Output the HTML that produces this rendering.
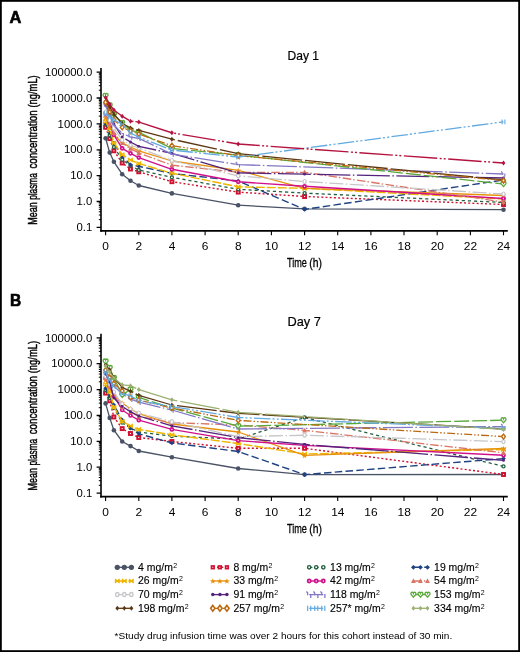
<!DOCTYPE html>
<html><head><meta charset="utf-8"><style>
html,body{margin:0;padding:0;background:#fff;}
body{width:520px;height:652px;overflow:hidden;}
svg{display:block;font-family:"Liberation Sans",sans-serif;will-change:transform;}
</style></head><body>
<svg width="520" height="652" viewBox="0 0 520 652">
<rect x="0" y="0" width="520" height="652" fill="#fff"/>
<rect x="0.9" y="0.9" width="518.2" height="650.2" fill="none" stroke="#000" stroke-width="1.8"/>
<text x="9.49" y="23.40" font-size="16.38" font-weight="bold" textLength="11.86" lengthAdjust="spacingAndGlyphs" fill="#000" stroke="#000" stroke-width="0.6">A</text>
<text x="10.09" y="305.60" font-size="16.09" font-weight="bold" textLength="11.25" lengthAdjust="spacingAndGlyphs" fill="#000" stroke="#000" stroke-width="0.6">B</text>
<path d="M101 68.0V231.7" stroke="#000" stroke-width="1.6" fill="none"/>
<path d="M100.2 230.9H507.8" stroke="#000" stroke-width="1.6" fill="none"/>
<text x="45.00" y="75.85" font-size="10.50" font-weight="normal" textLength="47.30" lengthAdjust="spacingAndGlyphs" fill="#000">100000.0</text>
<text x="51.31" y="101.72" font-size="10.50" font-weight="normal" textLength="40.99" lengthAdjust="spacingAndGlyphs" fill="#000">10000.0</text>
<text x="57.61" y="127.59" font-size="10.50" font-weight="normal" textLength="34.69" lengthAdjust="spacingAndGlyphs" fill="#000">1000.0</text>
<text x="63.92" y="153.46" font-size="10.50" font-weight="normal" textLength="28.38" lengthAdjust="spacingAndGlyphs" fill="#000">100.0</text>
<text x="70.23" y="179.33" font-size="10.50" font-weight="normal" textLength="22.07" lengthAdjust="spacingAndGlyphs" fill="#000">10.0</text>
<text x="76.54" y="205.20" font-size="10.50" font-weight="normal" textLength="15.76" lengthAdjust="spacingAndGlyphs" fill="#000">1.0</text>
<text x="76.54" y="231.07" font-size="10.50" font-weight="normal" textLength="15.76" lengthAdjust="spacingAndGlyphs" fill="#000">0.1</text>
<path d="M98.8 90.2H101 M98.8 85.7H101 M98.8 82.4H101 M98.8 79.9H101 M98.8 77.9H101 M98.8 76.2H101 M98.8 74.7H101 M98.8 73.3H101 M98.8 116.1H101 M98.8 111.5H101 M98.8 108.3H101 M98.8 105.8H101 M98.8 103.8H101 M98.8 102.0H101 M98.8 100.5H101 M98.8 99.2H101 M98.8 142.0H101 M98.8 137.4H101 M98.8 134.2H101 M98.8 131.7H101 M98.8 129.6H101 M98.8 127.9H101 M98.8 126.4H101 M98.8 125.1H101 M98.8 167.8H101 M98.8 163.3H101 M98.8 160.1H101 M98.8 157.5H101 M98.8 155.5H101 M98.8 153.8H101 M98.8 152.3H101 M98.8 150.9H101 M98.8 193.7H101 M98.8 189.2H101 M98.8 185.9H101 M98.8 183.4H101 M98.8 181.4H101 M98.8 179.6H101 M98.8 178.1H101 M98.8 176.8H101 M98.8 219.6H101 M98.8 215.0H101 M98.8 211.8H101 M98.8 209.3H101 M98.8 207.2H101 M98.8 205.5H101 M98.8 204.0H101 M98.8 202.7H101" stroke="#000" stroke-width="1" fill="none"/>
<path d="M96.6 72.2H101 M96.6 98.0H101 M96.6 123.9H101 M96.6 149.8H101 M96.6 175.6H101 M96.6 201.5H101 M96.6 227.4H101" stroke="#000" stroke-width="1.3" fill="none"/>
<text x="102.38" y="249.90" font-size="10.20" font-weight="normal" textLength="6.64" lengthAdjust="spacingAndGlyphs" fill="#000">0</text>
<text x="135.54" y="249.90" font-size="10.20" font-weight="normal" textLength="6.64" lengthAdjust="spacingAndGlyphs" fill="#000">2</text>
<text x="168.70" y="249.90" font-size="10.20" font-weight="normal" textLength="6.64" lengthAdjust="spacingAndGlyphs" fill="#000">4</text>
<text x="201.86" y="249.90" font-size="10.20" font-weight="normal" textLength="6.64" lengthAdjust="spacingAndGlyphs" fill="#000">6</text>
<text x="235.02" y="249.90" font-size="10.20" font-weight="normal" textLength="6.64" lengthAdjust="spacingAndGlyphs" fill="#000">8</text>
<text x="264.86" y="249.90" font-size="10.20" font-weight="normal" textLength="13.27" lengthAdjust="spacingAndGlyphs" fill="#000">10</text>
<text x="298.02" y="249.90" font-size="10.20" font-weight="normal" textLength="13.27" lengthAdjust="spacingAndGlyphs" fill="#000">12</text>
<text x="331.18" y="249.90" font-size="10.20" font-weight="normal" textLength="13.27" lengthAdjust="spacingAndGlyphs" fill="#000">14</text>
<text x="364.34" y="249.90" font-size="10.20" font-weight="normal" textLength="13.27" lengthAdjust="spacingAndGlyphs" fill="#000">16</text>
<text x="397.50" y="249.90" font-size="10.20" font-weight="normal" textLength="13.27" lengthAdjust="spacingAndGlyphs" fill="#000">18</text>
<text x="430.66" y="249.90" font-size="10.20" font-weight="normal" textLength="13.27" lengthAdjust="spacingAndGlyphs" fill="#000">20</text>
<text x="463.82" y="249.90" font-size="10.20" font-weight="normal" textLength="13.27" lengthAdjust="spacingAndGlyphs" fill="#000">22</text>
<text x="496.98" y="249.90" font-size="10.20" font-weight="normal" textLength="13.27" lengthAdjust="spacingAndGlyphs" fill="#000">24</text>
<path d="M105.6 230.9V235.3 M138.8 230.9V235.3 M171.9 230.9V235.3 M205.1 230.9V235.3 M238.2 230.9V235.3 M271.4 230.9V235.3 M304.6 230.9V235.3 M337.7 230.9V235.3 M370.9 230.9V235.3 M404.0 230.9V235.3 M437.2 230.9V235.3 M470.4 230.9V235.3 M503.5 230.9V235.3" stroke="#000" stroke-width="1.1" fill="none"/>
<text x="287.54" y="60.20" font-size="12.90" font-weight="normal" textLength="31.50" lengthAdjust="spacingAndGlyphs" fill="#000" stroke="#000" stroke-width="0.2">Day 1</text>
<text x="286.97" y="267.20" font-size="12.97" font-weight="normal" textLength="19.94" lengthAdjust="spacingAndGlyphs" fill="#000" stroke="#000" stroke-width="0.3">Time</text>
<text x="309.28" y="267.20" font-size="12.97" font-weight="normal" textLength="12.67" lengthAdjust="spacingAndGlyphs" fill="#000" stroke="#000" stroke-width="0.3">(h)</text>
<text transform="translate(37.1 224.72) rotate(-90)" x="0" y="0" font-size="13.00" textLength="22.52" lengthAdjust="spacingAndGlyphs" stroke="#000" stroke-width="0.45">Mean</text>
<text transform="translate(37.1 199.84) rotate(-90)" x="0" y="0" font-size="13.00" textLength="26.73" lengthAdjust="spacingAndGlyphs" stroke="#000" stroke-width="0.45">plasma</text>
<text transform="translate(37.1 168.54) rotate(-90)" x="0" y="0" font-size="13.00" textLength="58.16" lengthAdjust="spacingAndGlyphs" stroke="#000" stroke-width="0.45">concentration</text>
<text transform="translate(37.1 107.56) rotate(-90)" x="0" y="0" font-size="13.00" textLength="32.28" lengthAdjust="spacingAndGlyphs" stroke="#000" stroke-width="0.45">(ng/mL)</text>
<path d="M101 333.7V497.4" stroke="#000" stroke-width="1.6" fill="none"/>
<path d="M100.2 496.6H507.8" stroke="#000" stroke-width="1.6" fill="none"/>
<text x="45.00" y="341.55" font-size="10.50" font-weight="normal" textLength="47.30" lengthAdjust="spacingAndGlyphs" fill="#000">100000.0</text>
<text x="51.31" y="367.42" font-size="10.50" font-weight="normal" textLength="40.99" lengthAdjust="spacingAndGlyphs" fill="#000">10000.0</text>
<text x="57.61" y="393.29" font-size="10.50" font-weight="normal" textLength="34.69" lengthAdjust="spacingAndGlyphs" fill="#000">1000.0</text>
<text x="63.92" y="419.16" font-size="10.50" font-weight="normal" textLength="28.38" lengthAdjust="spacingAndGlyphs" fill="#000">100.0</text>
<text x="70.23" y="445.03" font-size="10.50" font-weight="normal" textLength="22.07" lengthAdjust="spacingAndGlyphs" fill="#000">10.0</text>
<text x="76.54" y="470.90" font-size="10.50" font-weight="normal" textLength="15.76" lengthAdjust="spacingAndGlyphs" fill="#000">1.0</text>
<text x="76.54" y="496.77" font-size="10.50" font-weight="normal" textLength="15.76" lengthAdjust="spacingAndGlyphs" fill="#000">0.1</text>
<path d="M98.8 355.9H101 M98.8 351.4H101 M98.8 348.1H101 M98.8 345.6H101 M98.8 343.6H101 M98.8 341.9H101 M98.8 340.4H101 M98.8 339.0H101 M98.8 381.8H101 M98.8 377.2H101 M98.8 374.0H101 M98.8 371.5H101 M98.8 369.5H101 M98.8 367.7H101 M98.8 366.2H101 M98.8 364.9H101 M98.8 407.7H101 M98.8 403.1H101 M98.8 399.9H101 M98.8 397.4H101 M98.8 395.3H101 M98.8 393.6H101 M98.8 392.1H101 M98.8 390.8H101 M98.8 433.5H101 M98.8 429.0H101 M98.8 425.8H101 M98.8 423.2H101 M98.8 421.2H101 M98.8 419.5H101 M98.8 418.0H101 M98.8 416.6H101 M98.8 459.4H101 M98.8 454.9H101 M98.8 451.6H101 M98.8 449.1H101 M98.8 447.1H101 M98.8 445.3H101 M98.8 443.8H101 M98.8 442.5H101 M98.8 485.3H101 M98.8 480.7H101 M98.8 477.5H101 M98.8 475.0H101 M98.8 472.9H101 M98.8 471.2H101 M98.8 469.7H101 M98.8 468.4H101" stroke="#000" stroke-width="1" fill="none"/>
<path d="M96.6 337.9H101 M96.6 363.7H101 M96.6 389.6H101 M96.6 415.5H101 M96.6 441.3H101 M96.6 467.2H101 M96.6 493.1H101" stroke="#000" stroke-width="1.3" fill="none"/>
<text x="102.38" y="515.60" font-size="10.20" font-weight="normal" textLength="6.64" lengthAdjust="spacingAndGlyphs" fill="#000">0</text>
<text x="135.54" y="515.60" font-size="10.20" font-weight="normal" textLength="6.64" lengthAdjust="spacingAndGlyphs" fill="#000">2</text>
<text x="168.70" y="515.60" font-size="10.20" font-weight="normal" textLength="6.64" lengthAdjust="spacingAndGlyphs" fill="#000">4</text>
<text x="201.86" y="515.60" font-size="10.20" font-weight="normal" textLength="6.64" lengthAdjust="spacingAndGlyphs" fill="#000">6</text>
<text x="235.02" y="515.60" font-size="10.20" font-weight="normal" textLength="6.64" lengthAdjust="spacingAndGlyphs" fill="#000">8</text>
<text x="264.86" y="515.60" font-size="10.20" font-weight="normal" textLength="13.27" lengthAdjust="spacingAndGlyphs" fill="#000">10</text>
<text x="298.02" y="515.60" font-size="10.20" font-weight="normal" textLength="13.27" lengthAdjust="spacingAndGlyphs" fill="#000">12</text>
<text x="331.18" y="515.60" font-size="10.20" font-weight="normal" textLength="13.27" lengthAdjust="spacingAndGlyphs" fill="#000">14</text>
<text x="364.34" y="515.60" font-size="10.20" font-weight="normal" textLength="13.27" lengthAdjust="spacingAndGlyphs" fill="#000">16</text>
<text x="397.50" y="515.60" font-size="10.20" font-weight="normal" textLength="13.27" lengthAdjust="spacingAndGlyphs" fill="#000">18</text>
<text x="430.66" y="515.60" font-size="10.20" font-weight="normal" textLength="13.27" lengthAdjust="spacingAndGlyphs" fill="#000">20</text>
<text x="463.82" y="515.60" font-size="10.20" font-weight="normal" textLength="13.27" lengthAdjust="spacingAndGlyphs" fill="#000">22</text>
<text x="496.98" y="515.60" font-size="10.20" font-weight="normal" textLength="13.27" lengthAdjust="spacingAndGlyphs" fill="#000">24</text>
<path d="M105.6 496.6V501.0 M138.8 496.6V501.0 M171.9 496.6V501.0 M205.1 496.6V501.0 M238.2 496.6V501.0 M271.4 496.6V501.0 M304.6 496.6V501.0 M337.7 496.6V501.0 M370.9 496.6V501.0 M404.0 496.6V501.0 M437.2 496.6V501.0 M470.4 496.6V501.0 M503.5 496.6V501.0" stroke="#000" stroke-width="1.1" fill="none"/>
<text x="287.48" y="325.90" font-size="12.90" font-weight="normal" textLength="33.39" lengthAdjust="spacingAndGlyphs" fill="#000" stroke="#000" stroke-width="0.2">Day 7</text>
<text x="286.97" y="532.90" font-size="12.97" font-weight="normal" textLength="19.94" lengthAdjust="spacingAndGlyphs" fill="#000" stroke="#000" stroke-width="0.3">Time</text>
<text x="309.28" y="532.90" font-size="12.97" font-weight="normal" textLength="12.67" lengthAdjust="spacingAndGlyphs" fill="#000" stroke="#000" stroke-width="0.3">(h)</text>
<text transform="translate(37.1 490.42) rotate(-90)" x="0" y="0" font-size="13.00" textLength="22.52" lengthAdjust="spacingAndGlyphs" stroke="#000" stroke-width="0.45">Mean</text>
<text transform="translate(37.1 465.54) rotate(-90)" x="0" y="0" font-size="13.00" textLength="26.73" lengthAdjust="spacingAndGlyphs" stroke="#000" stroke-width="0.45">plasma</text>
<text transform="translate(37.1 434.24) rotate(-90)" x="0" y="0" font-size="13.00" textLength="58.16" lengthAdjust="spacingAndGlyphs" stroke="#000" stroke-width="0.45">concentration</text>
<text transform="translate(37.1 373.26) rotate(-90)" x="0" y="0" font-size="13.00" textLength="32.28" lengthAdjust="spacingAndGlyphs" stroke="#000" stroke-width="0.45">(ng/mL)</text>
<polyline points="105.6,138.3 109.7,152.6 113.9,161.8 122.2,174.2 130.5,180.8 138.8,185.5 171.9,193.4 238.2,205.2 304.6,208.8 503.5,209.7" fill="none" stroke="#4a5266" stroke-width="1.3" stroke-linejoin="round"/>
<circle cx="105.6" cy="138.3" r="2.3" fill="#4a5266"/>
<circle cx="109.7" cy="152.6" r="2.3" fill="#4a5266"/>
<circle cx="113.9" cy="161.8" r="2.3" fill="#4a5266"/>
<circle cx="122.2" cy="174.2" r="2.3" fill="#4a5266"/>
<circle cx="130.5" cy="180.8" r="2.3" fill="#4a5266"/>
<circle cx="138.8" cy="185.5" r="2.3" fill="#4a5266"/>
<circle cx="171.9" cy="193.4" r="2.3" fill="#4a5266"/>
<circle cx="238.2" cy="205.2" r="2.3" fill="#4a5266"/>
<circle cx="304.6" cy="208.8" r="2.3" fill="#4a5266"/>
<circle cx="503.5" cy="209.7" r="2.3" fill="#4a5266"/>
<polyline points="105.6,127.3 109.7,138.6 113.9,150.8 122.2,163.0 130.5,169.0 138.8,171.8 171.9,181.7 238.2,192.1 304.6,196.5 503.5,204.5" fill="none" stroke="#cf1130" stroke-width="1.4" stroke-dasharray="2,2.2" stroke-linejoin="round"/>
<rect x="104.10" y="125.80" width="3.0" height="3.0" fill="#fff" stroke="#cf1130" stroke-width="1.9"/>
<rect x="108.24" y="137.10" width="3.0" height="3.0" fill="#fff" stroke="#cf1130" stroke-width="1.9"/>
<rect x="112.39" y="149.30" width="3.0" height="3.0" fill="#fff" stroke="#cf1130" stroke-width="1.9"/>
<rect x="120.68" y="161.50" width="3.0" height="3.0" fill="#fff" stroke="#cf1130" stroke-width="1.9"/>
<rect x="128.97" y="167.50" width="3.0" height="3.0" fill="#fff" stroke="#cf1130" stroke-width="1.9"/>
<rect x="137.26" y="170.30" width="3.0" height="3.0" fill="#fff" stroke="#cf1130" stroke-width="1.9"/>
<rect x="170.42" y="180.20" width="3.0" height="3.0" fill="#fff" stroke="#cf1130" stroke-width="1.9"/>
<rect x="236.74" y="190.60" width="3.0" height="3.0" fill="#fff" stroke="#cf1130" stroke-width="1.9"/>
<rect x="303.06" y="195.00" width="3.0" height="3.0" fill="#fff" stroke="#cf1130" stroke-width="1.9"/>
<rect x="502.02" y="203.00" width="3.0" height="3.0" fill="#fff" stroke="#cf1130" stroke-width="1.9"/>
<polyline points="105.6,124.0 109.7,135.0 113.9,147.0 122.2,159.7 130.5,165.6 138.8,170.0 171.9,177.3 238.2,189.3 304.6,193.1 503.5,202.5" fill="none" stroke="#22603f" stroke-width="1.3" stroke-dasharray="3.2,2.9" stroke-linejoin="round"/>
<circle cx="105.6" cy="124.0" r="1.5" fill="#fff" stroke="#22603f" stroke-width="1.3"/>
<circle cx="109.7" cy="135.0" r="1.5" fill="#fff" stroke="#22603f" stroke-width="1.3"/>
<circle cx="113.9" cy="147.0" r="1.5" fill="#fff" stroke="#22603f" stroke-width="1.3"/>
<circle cx="122.2" cy="159.7" r="1.5" fill="#fff" stroke="#22603f" stroke-width="1.3"/>
<circle cx="130.5" cy="165.6" r="1.5" fill="#fff" stroke="#22603f" stroke-width="1.3"/>
<circle cx="138.8" cy="170.0" r="1.5" fill="#fff" stroke="#22603f" stroke-width="1.3"/>
<circle cx="171.9" cy="177.3" r="1.5" fill="#fff" stroke="#22603f" stroke-width="1.3"/>
<circle cx="238.2" cy="189.3" r="1.5" fill="#fff" stroke="#22603f" stroke-width="1.3"/>
<circle cx="304.6" cy="193.1" r="1.5" fill="#fff" stroke="#22603f" stroke-width="1.3"/>
<circle cx="503.5" cy="202.5" r="1.5" fill="#fff" stroke="#22603f" stroke-width="1.3"/>
<polyline points="105.6,123.4 109.7,132.7 113.9,143.0 122.2,156.3 130.5,164.7 138.8,166.3 171.9,173.4 238.2,181.0 304.6,209.4 503.5,180.0" fill="none" stroke="#1f4282" stroke-width="1.4" stroke-dasharray="7.5,3.3" stroke-linejoin="round"/>
<path d="M105.6 121.1L107.9 123.4L105.6 125.7L103.3 123.4Z" fill="#1f4282"/>
<path d="M109.7 130.4L112.0 132.7L109.7 135.0L107.4 132.7Z" fill="#1f4282"/>
<path d="M113.9 140.7L116.2 143.0L113.9 145.3L111.6 143.0Z" fill="#1f4282"/>
<path d="M122.2 154.0L124.5 156.3L122.2 158.6L119.9 156.3Z" fill="#1f4282"/>
<path d="M130.5 162.4L132.8 164.7L130.5 167.0L128.2 164.7Z" fill="#1f4282"/>
<path d="M138.8 164.0L141.1 166.3L138.8 168.6L136.5 166.3Z" fill="#1f4282"/>
<path d="M171.9 171.1L174.2 173.4L171.9 175.7L169.6 173.4Z" fill="#1f4282"/>
<path d="M238.2 178.7L240.5 181.0L238.2 183.3L235.9 181.0Z" fill="#1f4282"/>
<path d="M304.6 207.1L306.9 209.4L304.6 211.7L302.3 209.4Z" fill="#1f4282"/>
<path d="M503.5 177.7L505.8 180.0L503.5 182.3L501.2 180.0Z" fill="#1f4282"/>
<polyline points="105.6,121.5 109.7,130.1 113.9,142.8 122.2,154.6 130.5,160.0 138.8,163.5 171.9,173.2 238.2,186.8 304.6,188.3 503.5,199.0" fill="none" stroke="#efb600" stroke-width="1.4" stroke-dasharray="9,2" stroke-linejoin="round"/>
<path d="M103.7 119.6L107.5 123.4M107.5 119.6L103.7 123.4M103.7 119.3V123.7M107.5 119.3V123.7" stroke="#efb600" stroke-width="1.1" fill="none"/>
<path d="M107.8 128.2L111.6 132.0M111.6 128.2L107.8 132.0M107.8 127.9V132.3M111.6 127.9V132.3" stroke="#efb600" stroke-width="1.1" fill="none"/>
<path d="M112.0 140.9L115.8 144.7M115.8 140.9L112.0 144.7M112.0 140.6V145.0M115.8 140.6V145.0" stroke="#efb600" stroke-width="1.1" fill="none"/>
<path d="M120.3 152.7L124.1 156.5M124.1 152.7L120.3 156.5M120.3 152.4V156.8M124.1 152.4V156.8" stroke="#efb600" stroke-width="1.1" fill="none"/>
<path d="M128.6 158.1L132.4 161.9M132.4 158.1L128.6 161.9M128.6 157.8V162.2M132.4 157.8V162.2" stroke="#efb600" stroke-width="1.1" fill="none"/>
<path d="M136.9 161.6L140.7 165.4M140.7 161.6L136.9 165.4M136.9 161.3V165.7M140.7 161.3V165.7" stroke="#efb600" stroke-width="1.1" fill="none"/>
<path d="M170.0 171.3L173.8 175.1M173.8 171.3L170.0 175.1M170.0 171.0V175.4M173.8 171.0V175.4" stroke="#efb600" stroke-width="1.1" fill="none"/>
<path d="M236.3 184.9L240.1 188.7M240.1 184.9L236.3 188.7M236.3 184.6V189.0M240.1 184.6V189.0" stroke="#efb600" stroke-width="1.1" fill="none"/>
<path d="M302.7 186.4L306.5 190.2M306.5 186.4L302.7 190.2M302.7 186.1V190.5M306.5 186.1V190.5" stroke="#efb600" stroke-width="1.1" fill="none"/>
<path d="M501.6 197.1L505.4 200.9M505.4 197.1L501.6 200.9M501.6 196.8V201.2M505.4 196.8V201.2" stroke="#efb600" stroke-width="1.1" fill="none"/>
<polyline points="105.6,118.0 109.7,127.0 113.9,135.0 122.2,142.8 130.5,147.0 138.8,150.8 171.9,161.0 238.2,170.4 304.6,188.3 503.5,195.5" fill="none" stroke="#e6920c" stroke-width="1.3" stroke-linejoin="round"/>
<polygon points="105.60,115.30 106.33,117.29 108.45,117.37 106.79,118.69 107.36,120.73 105.60,119.55 103.84,120.73 104.41,118.69 102.75,117.37 104.87,117.29" fill="#e6920c"/>
<polygon points="109.74,124.30 110.48,126.29 112.60,126.37 110.93,127.69 111.51,129.73 109.74,128.55 107.98,129.73 108.56,127.69 106.89,126.37 109.01,126.29" fill="#e6920c"/>
<polygon points="113.89,132.30 114.62,134.29 116.74,134.37 115.08,135.69 115.65,137.73 113.89,136.55 112.13,137.73 112.70,135.69 111.04,134.37 113.16,134.29" fill="#e6920c"/>
<polygon points="122.18,140.10 122.91,142.09 125.03,142.17 123.37,143.49 123.94,145.53 122.18,144.35 120.42,145.53 120.99,143.49 119.33,142.17 121.45,142.09" fill="#e6920c"/>
<polygon points="130.47,144.30 131.20,146.29 133.32,146.37 131.66,147.69 132.23,149.73 130.47,148.55 128.71,149.73 129.28,147.69 127.62,146.37 129.74,146.29" fill="#e6920c"/>
<polygon points="138.76,148.10 139.49,150.09 141.61,150.17 139.95,151.49 140.52,153.53 138.76,152.35 137.00,153.53 137.57,151.49 135.91,150.17 138.03,150.09" fill="#e6920c"/>
<polygon points="171.92,158.30 172.65,160.29 174.77,160.37 173.11,161.69 173.68,163.73 171.92,162.55 170.16,163.73 170.73,161.69 169.07,160.37 171.19,160.29" fill="#e6920c"/>
<polygon points="238.24,167.70 238.97,169.69 241.09,169.77 239.43,171.09 240.00,173.13 238.24,171.95 236.48,173.13 237.05,171.09 235.39,169.77 237.51,169.69" fill="#e6920c"/>
<polygon points="304.56,185.60 305.29,187.59 307.41,187.67 305.75,188.99 306.32,191.03 304.56,189.85 302.80,191.03 303.37,188.99 301.71,187.67 303.83,187.59" fill="#e6920c"/>
<polygon points="503.52,192.80 504.25,194.79 506.37,194.87 504.71,196.19 505.28,198.23 503.52,197.05 501.76,198.23 502.33,196.19 500.67,194.87 502.79,194.79" fill="#e6920c"/>
<polyline points="105.6,113.3 109.7,122.0 113.9,134.8 122.2,148.3 130.5,153.3 138.8,157.6 171.9,169.3 238.2,181.8 304.6,186.3 503.5,198.5" fill="none" stroke="#d0108a" stroke-width="1.4" stroke-linejoin="round"/>
<circle cx="105.6" cy="113.3" r="1.5" fill="#fff" stroke="#d0108a" stroke-width="1.7"/>
<circle cx="109.7" cy="122.0" r="1.5" fill="#fff" stroke="#d0108a" stroke-width="1.7"/>
<circle cx="113.9" cy="134.8" r="1.5" fill="#fff" stroke="#d0108a" stroke-width="1.7"/>
<circle cx="122.2" cy="148.3" r="1.5" fill="#fff" stroke="#d0108a" stroke-width="1.7"/>
<circle cx="130.5" cy="153.3" r="1.5" fill="#fff" stroke="#d0108a" stroke-width="1.7"/>
<circle cx="138.8" cy="157.6" r="1.5" fill="#fff" stroke="#d0108a" stroke-width="1.7"/>
<circle cx="171.9" cy="169.3" r="1.5" fill="#fff" stroke="#d0108a" stroke-width="1.7"/>
<circle cx="238.2" cy="181.8" r="1.5" fill="#fff" stroke="#d0108a" stroke-width="1.7"/>
<circle cx="304.6" cy="186.3" r="1.5" fill="#fff" stroke="#d0108a" stroke-width="1.7"/>
<circle cx="503.5" cy="198.5" r="1.5" fill="#fff" stroke="#d0108a" stroke-width="1.7"/>
<polyline points="105.6,115.0 109.7,124.0 113.9,133.0 122.2,143.0 130.5,148.7 138.8,152.9 171.9,165.2 238.2,172.3 304.6,172.3 503.5,202.0" fill="none" stroke="#da7565" stroke-width="1.3" stroke-dasharray="8.5,2,1.5,2.4" stroke-linejoin="round"/>
<path d="M105.6 112.3L108.0 117.0L103.2 117.0Z" fill="#da7565"/>
<path d="M109.7 121.3L112.1 126.0L107.3 126.0Z" fill="#da7565"/>
<path d="M113.9 130.3L116.3 135.0L111.5 135.0Z" fill="#da7565"/>
<path d="M122.2 140.3L124.6 145.0L119.8 145.0Z" fill="#da7565"/>
<path d="M130.5 146.0L132.9 150.7L128.1 150.7Z" fill="#da7565"/>
<path d="M138.8 150.2L141.2 154.9L136.4 154.9Z" fill="#da7565"/>
<path d="M171.9 162.5L174.3 167.2L169.5 167.2Z" fill="#da7565"/>
<path d="M238.2 169.6L240.6 174.3L235.8 174.3Z" fill="#da7565"/>
<path d="M304.6 169.6L307.0 174.3L302.2 174.3Z" fill="#da7565"/>
<path d="M503.5 199.3L505.9 204.0L501.1 204.0Z" fill="#da7565"/>
<polyline points="105.6,112.0 109.7,120.0 113.9,128.0 122.2,140.0 130.5,145.0 138.8,148.0 171.9,160.5 238.2,175.8 304.6,181.5 503.5,194.0" fill="none" stroke="#c6c6ca" stroke-width="1.3" stroke-dasharray="14,2.5,1.5,2.5" stroke-linejoin="round"/>
<ellipse cx="105.6" cy="112.0" rx="1.6" ry="2.0" fill="#fff" stroke="#c6c6ca" stroke-width="1.2"/>
<ellipse cx="109.7" cy="120.0" rx="1.6" ry="2.0" fill="#fff" stroke="#c6c6ca" stroke-width="1.2"/>
<ellipse cx="113.9" cy="128.0" rx="1.6" ry="2.0" fill="#fff" stroke="#c6c6ca" stroke-width="1.2"/>
<ellipse cx="122.2" cy="140.0" rx="1.6" ry="2.0" fill="#fff" stroke="#c6c6ca" stroke-width="1.2"/>
<ellipse cx="130.5" cy="145.0" rx="1.6" ry="2.0" fill="#fff" stroke="#c6c6ca" stroke-width="1.2"/>
<ellipse cx="138.8" cy="148.0" rx="1.6" ry="2.0" fill="#fff" stroke="#c6c6ca" stroke-width="1.2"/>
<ellipse cx="171.9" cy="160.5" rx="1.6" ry="2.0" fill="#fff" stroke="#c6c6ca" stroke-width="1.2"/>
<ellipse cx="238.2" cy="175.8" rx="1.6" ry="2.0" fill="#fff" stroke="#c6c6ca" stroke-width="1.2"/>
<ellipse cx="304.6" cy="181.5" rx="1.6" ry="2.0" fill="#fff" stroke="#c6c6ca" stroke-width="1.2"/>
<ellipse cx="503.5" cy="194.0" rx="1.6" ry="2.0" fill="#fff" stroke="#c6c6ca" stroke-width="1.2"/>
<polyline points="105.6,105.4 109.7,113.0 113.9,124.0 122.2,136.9 130.5,142.0 138.8,146.3 171.9,153.4 238.2,172.9 304.6,174.2 503.5,178.0" fill="none" stroke="#52227c" stroke-width="1.3" stroke-dasharray="33,2.5,1.5,2.5" stroke-linejoin="round"/>
<circle cx="105.6" cy="105.4" r="1.4" fill="#52227c"/>
<circle cx="109.7" cy="113.0" r="1.4" fill="#52227c"/>
<circle cx="113.9" cy="124.0" r="1.4" fill="#52227c"/>
<circle cx="122.2" cy="136.9" r="1.4" fill="#52227c"/>
<circle cx="130.5" cy="142.0" r="1.4" fill="#52227c"/>
<circle cx="138.8" cy="146.3" r="1.4" fill="#52227c"/>
<circle cx="171.9" cy="153.4" r="1.4" fill="#52227c"/>
<circle cx="238.2" cy="172.9" r="1.4" fill="#52227c"/>
<circle cx="304.6" cy="174.2" r="1.4" fill="#52227c"/>
<circle cx="503.5" cy="178.0" r="1.4" fill="#52227c"/>
<polyline points="105.6,106.0 109.7,115.0 113.9,125.0 122.2,133.5 130.5,137.0 138.8,138.3 171.9,154.1 238.2,164.6 503.5,174.0" fill="none" stroke="#8378c6" stroke-width="1.3" stroke-dasharray="30,2.5,1.5,2.5" stroke-linejoin="round"/>
<path d="M103.2 103.4L104.3 104.5V106.6M106.9 105.4V108.8" stroke="#8378c6" stroke-width="1.1" fill="none"/>
<path d="M107.3 112.4L108.4 113.5V115.6M111.0 114.4V117.8" stroke="#8378c6" stroke-width="1.1" fill="none"/>
<path d="M111.5 122.4L112.6 123.5V125.6M115.2 124.4V127.8" stroke="#8378c6" stroke-width="1.1" fill="none"/>
<path d="M119.8 130.9L120.9 132.0V134.1M123.5 132.9V136.3" stroke="#8378c6" stroke-width="1.1" fill="none"/>
<path d="M128.1 134.4L129.2 135.5V137.6M131.8 136.4V139.8" stroke="#8378c6" stroke-width="1.1" fill="none"/>
<path d="M136.4 135.7L137.5 136.8V138.9M140.1 137.7V141.1" stroke="#8378c6" stroke-width="1.1" fill="none"/>
<path d="M169.5 151.5L170.6 152.6V154.7M173.2 153.5V156.9" stroke="#8378c6" stroke-width="1.1" fill="none"/>
<path d="M235.8 162.0L236.9 163.1V165.2M239.5 164.0V167.4" stroke="#8378c6" stroke-width="1.1" fill="none"/>
<path d="M501.1 171.4L502.2 172.5V174.6M504.8 173.4V176.8" stroke="#8378c6" stroke-width="1.1" fill="none"/>
<polyline points="105.6,95.8 109.7,105.4 113.9,114.6 122.2,123.0 130.5,130.3 138.8,132.3 171.9,148.5 238.2,155.2 503.5,184.0" fill="none" stroke="#58a83a" stroke-width="1.3" stroke-dasharray="15,3" stroke-linejoin="round"/>
<path d="M105.6 98.4L103.2 95.6Q102.9 93.3 104.6 93.3Q105.3 93.4 105.6 94.4Q105.9 93.4 106.6 93.3Q108.3 93.3 108.0 95.6Z" fill="#fff" stroke="#58a83a" stroke-width="1.3"/>
<path d="M109.7 108.0L107.3 105.2Q107.0 102.9 108.7 102.9Q109.4 103.0 109.7 104.0Q110.0 103.0 110.7 102.9Q112.4 102.9 112.1 105.2Z" fill="#fff" stroke="#58a83a" stroke-width="1.3"/>
<path d="M113.9 117.2L111.5 114.4Q111.2 112.1 112.9 112.1Q113.6 112.2 113.9 113.2Q114.2 112.2 114.9 112.1Q116.6 112.1 116.3 114.4Z" fill="#fff" stroke="#58a83a" stroke-width="1.3"/>
<path d="M122.2 125.6L119.8 122.8Q119.5 120.5 121.2 120.5Q121.9 120.6 122.2 121.6Q122.5 120.6 123.2 120.5Q124.9 120.5 124.6 122.8Z" fill="#fff" stroke="#58a83a" stroke-width="1.3"/>
<path d="M130.5 132.9L128.1 130.1Q127.8 127.8 129.5 127.8Q130.2 127.9 130.5 128.9Q130.8 127.9 131.5 127.8Q133.2 127.8 132.9 130.1Z" fill="#fff" stroke="#58a83a" stroke-width="1.3"/>
<path d="M138.8 134.9L136.4 132.1Q136.1 129.8 137.8 129.8Q138.5 129.9 138.8 130.9Q139.1 129.9 139.8 129.8Q141.5 129.8 141.2 132.1Z" fill="#fff" stroke="#58a83a" stroke-width="1.3"/>
<path d="M171.9 151.1L169.5 148.3Q169.2 146.0 170.9 146.0Q171.6 146.1 171.9 147.1Q172.2 146.1 172.9 146.0Q174.6 146.0 174.3 148.3Z" fill="#fff" stroke="#58a83a" stroke-width="1.3"/>
<path d="M238.2 157.8L235.8 155.0Q235.5 152.7 237.2 152.7Q237.9 152.8 238.2 153.8Q238.5 152.8 239.2 152.7Q240.9 152.7 240.6 155.0Z" fill="#fff" stroke="#58a83a" stroke-width="1.3"/>
<path d="M503.5 186.6L501.1 183.8Q500.8 181.5 502.5 181.5Q503.2 181.6 503.5 182.6Q503.8 181.6 504.5 181.5Q506.2 181.5 505.9 183.8Z" fill="#fff" stroke="#58a83a" stroke-width="1.3"/>
<polyline points="105.6,101.5 109.7,107.5 113.9,114.2 122.2,123.5 130.5,127.9 138.8,130.4 171.9,139.2 238.2,153.7 503.5,180.0" fill="none" stroke="#5c3712" stroke-width="1.3" stroke-dasharray="40,3" stroke-linejoin="round"/>
<path d="M103.7 101.5L105.6 99.0L107.5 101.5L105.6 104.0Z" fill="#5c3712"/>
<path d="M107.8 107.5L109.7 105.0L111.6 107.5L109.7 110.0Z" fill="#5c3712"/>
<path d="M112.0 114.2L113.9 111.7L115.8 114.2L113.9 116.7Z" fill="#5c3712"/>
<path d="M120.3 123.5L122.2 121.0L124.1 123.5L122.2 126.0Z" fill="#5c3712"/>
<path d="M128.6 127.9L130.5 125.4L132.4 127.9L130.5 130.4Z" fill="#5c3712"/>
<path d="M136.9 130.4L138.8 127.9L140.7 130.4L138.8 132.9Z" fill="#5c3712"/>
<path d="M170.0 139.2L171.9 136.7L173.8 139.2L171.9 141.7Z" fill="#5c3712"/>
<path d="M236.3 153.7L238.2 151.2L240.1 153.7L238.2 156.2Z" fill="#5c3712"/>
<path d="M501.6 180.0L503.5 177.5L505.4 180.0L503.5 182.5Z" fill="#5c3712"/>
<polyline points="105.6,102.3 109.7,112.0 113.9,119.6 122.2,127.3 130.5,131.0 138.8,134.0 171.9,145.7 238.2,155.6 503.5,180.5" fill="none" stroke="#bc6a12" stroke-width="1.3" stroke-dasharray="8,2,1.5,2,1.5,2" stroke-linejoin="round"/>
<path d="M105.6 99.8L107.5 102.3L105.6 104.8L103.7 102.3Z" fill="#fff" stroke="#bc6a12" stroke-width="1.4"/>
<path d="M109.7 109.5L111.6 112.0L109.7 114.5L107.8 112.0Z" fill="#fff" stroke="#bc6a12" stroke-width="1.4"/>
<path d="M113.9 117.1L115.8 119.6L113.9 122.1L112.0 119.6Z" fill="#fff" stroke="#bc6a12" stroke-width="1.4"/>
<path d="M122.2 124.8L124.1 127.3L122.2 129.8L120.3 127.3Z" fill="#fff" stroke="#bc6a12" stroke-width="1.4"/>
<path d="M130.5 128.5L132.4 131.0L130.5 133.5L128.6 131.0Z" fill="#fff" stroke="#bc6a12" stroke-width="1.4"/>
<path d="M138.8 131.5L140.7 134.0L138.8 136.5L136.9 134.0Z" fill="#fff" stroke="#bc6a12" stroke-width="1.4"/>
<path d="M171.9 143.2L173.8 145.7L171.9 148.2L170.0 145.7Z" fill="#fff" stroke="#bc6a12" stroke-width="1.4"/>
<path d="M238.2 153.1L240.1 155.6L238.2 158.1L236.3 155.6Z" fill="#fff" stroke="#bc6a12" stroke-width="1.4"/>
<path d="M503.5 178.0L505.4 180.5L503.5 183.0L501.6 180.5Z" fill="#fff" stroke="#bc6a12" stroke-width="1.4"/>
<polyline points="105.6,113.5 109.7,117.0 113.9,120.0 122.2,124.0 130.5,133.0 138.8,137.2 171.9,150.0 238.2,157.1 503.5,121.8" fill="none" stroke="#62aae2" stroke-width="1.3" stroke-dasharray="16.5,2,2,2.3,2,2.3" stroke-linejoin="round"/>
<path d="M104.2 111.1V115.9M107.0 111.1V115.9" stroke="#62aae2" stroke-width="1.1" fill="none"/>
<path d="M108.3 114.6V119.4M111.1 114.6V119.4" stroke="#62aae2" stroke-width="1.1" fill="none"/>
<path d="M112.5 117.6V122.4M115.3 117.6V122.4" stroke="#62aae2" stroke-width="1.1" fill="none"/>
<path d="M120.8 121.6V126.4M123.6 121.6V126.4" stroke="#62aae2" stroke-width="1.1" fill="none"/>
<path d="M129.1 130.6V135.4M131.9 130.6V135.4" stroke="#62aae2" stroke-width="1.1" fill="none"/>
<path d="M137.4 134.8V139.6M140.2 134.8V139.6" stroke="#62aae2" stroke-width="1.1" fill="none"/>
<path d="M170.5 147.6V152.4M173.3 147.6V152.4" stroke="#62aae2" stroke-width="1.1" fill="none"/>
<path d="M236.8 154.7V159.5M239.6 154.7V159.5" stroke="#62aae2" stroke-width="1.1" fill="none"/>
<path d="M502.1 119.4V124.2M504.9 119.4V124.2" stroke="#62aae2" stroke-width="1.1" fill="none"/>
<polyline points="105.6,97.5 109.7,104.3 113.9,110.0 122.2,116.2 130.5,121.2 138.8,122.0 171.9,132.8 238.2,144.0 503.5,163.0" fill="none" stroke="#b5133f" stroke-width="1.4" stroke-dasharray="33.5,2.5,2,2,2,2.5" stroke-linejoin="round"/>
<path d="M103.7 97.5L105.6 95.0L107.5 97.5L105.6 100.0Z" fill="#b5133f"/>
<path d="M107.8 104.3L109.7 101.8L111.6 104.3L109.7 106.8Z" fill="#b5133f"/>
<path d="M112.0 110.0L113.9 107.5L115.8 110.0L113.9 112.5Z" fill="#b5133f"/>
<path d="M120.3 116.2L122.2 113.7L124.1 116.2L122.2 118.7Z" fill="#b5133f"/>
<path d="M128.6 121.2L130.5 118.7L132.4 121.2L130.5 123.7Z" fill="#b5133f"/>
<path d="M136.9 122.0L138.8 119.5L140.7 122.0L138.8 124.5Z" fill="#b5133f"/>
<path d="M170.0 132.8L171.9 130.3L173.8 132.8L171.9 135.3Z" fill="#b5133f"/>
<path d="M236.3 144.0L238.2 141.5L240.1 144.0L238.2 146.5Z" fill="#b5133f"/>
<path d="M501.6 163.0L503.5 160.5L505.4 163.0L503.5 165.5Z" fill="#b5133f"/>
<polyline points="105.6,403.4 109.7,417.9 113.9,430.2 122.2,441.5 130.5,446.1 138.8,451.0 171.9,457.2 238.2,468.5 304.6,474.6 503.5,474.5" fill="none" stroke="#4a5266" stroke-width="1.3" stroke-linejoin="round"/>
<circle cx="105.6" cy="403.4" r="2.3" fill="#4a5266"/>
<circle cx="109.7" cy="417.9" r="2.3" fill="#4a5266"/>
<circle cx="113.9" cy="430.2" r="2.3" fill="#4a5266"/>
<circle cx="122.2" cy="441.5" r="2.3" fill="#4a5266"/>
<circle cx="130.5" cy="446.1" r="2.3" fill="#4a5266"/>
<circle cx="138.8" cy="451.0" r="2.3" fill="#4a5266"/>
<circle cx="171.9" cy="457.2" r="2.3" fill="#4a5266"/>
<circle cx="238.2" cy="468.5" r="2.3" fill="#4a5266"/>
<circle cx="304.6" cy="474.6" r="2.3" fill="#4a5266"/>
<circle cx="503.5" cy="474.5" r="2.3" fill="#4a5266"/>
<polyline points="105.6,393.1 109.7,400.8 113.9,417.0 122.2,428.6 130.5,433.5 138.8,437.5 171.9,441.5 238.2,448.3 304.6,448.3 503.5,474.5" fill="none" stroke="#cf1130" stroke-width="1.4" stroke-dasharray="2,2.2" stroke-linejoin="round"/>
<rect x="104.10" y="391.60" width="3.0" height="3.0" fill="#fff" stroke="#cf1130" stroke-width="1.9"/>
<rect x="108.24" y="399.30" width="3.0" height="3.0" fill="#fff" stroke="#cf1130" stroke-width="1.9"/>
<rect x="112.39" y="415.50" width="3.0" height="3.0" fill="#fff" stroke="#cf1130" stroke-width="1.9"/>
<rect x="120.68" y="427.10" width="3.0" height="3.0" fill="#fff" stroke="#cf1130" stroke-width="1.9"/>
<rect x="128.97" y="432.00" width="3.0" height="3.0" fill="#fff" stroke="#cf1130" stroke-width="1.9"/>
<rect x="137.26" y="436.00" width="3.0" height="3.0" fill="#fff" stroke="#cf1130" stroke-width="1.9"/>
<rect x="170.42" y="440.00" width="3.0" height="3.0" fill="#fff" stroke="#cf1130" stroke-width="1.9"/>
<rect x="236.74" y="446.80" width="3.0" height="3.0" fill="#fff" stroke="#cf1130" stroke-width="1.9"/>
<rect x="303.06" y="446.80" width="3.0" height="3.0" fill="#fff" stroke="#cf1130" stroke-width="1.9"/>
<rect x="502.02" y="473.00" width="3.0" height="3.0" fill="#fff" stroke="#cf1130" stroke-width="1.9"/>
<polyline points="105.6,390.0 109.7,398.0 113.9,408.0 122.2,422.7 130.5,428.0 138.8,432.0 171.9,436.2 238.2,439.0 304.6,417.5 503.5,466.4" fill="none" stroke="#22603f" stroke-width="1.3" stroke-dasharray="3.2,2.9" stroke-linejoin="round"/>
<circle cx="105.6" cy="390.0" r="1.5" fill="#fff" stroke="#22603f" stroke-width="1.3"/>
<circle cx="109.7" cy="398.0" r="1.5" fill="#fff" stroke="#22603f" stroke-width="1.3"/>
<circle cx="113.9" cy="408.0" r="1.5" fill="#fff" stroke="#22603f" stroke-width="1.3"/>
<circle cx="122.2" cy="422.7" r="1.5" fill="#fff" stroke="#22603f" stroke-width="1.3"/>
<circle cx="130.5" cy="428.0" r="1.5" fill="#fff" stroke="#22603f" stroke-width="1.3"/>
<circle cx="138.8" cy="432.0" r="1.5" fill="#fff" stroke="#22603f" stroke-width="1.3"/>
<circle cx="171.9" cy="436.2" r="1.5" fill="#fff" stroke="#22603f" stroke-width="1.3"/>
<circle cx="238.2" cy="439.0" r="1.5" fill="#fff" stroke="#22603f" stroke-width="1.3"/>
<circle cx="304.6" cy="417.5" r="1.5" fill="#fff" stroke="#22603f" stroke-width="1.3"/>
<circle cx="503.5" cy="466.4" r="1.5" fill="#fff" stroke="#22603f" stroke-width="1.3"/>
<polyline points="105.6,388.3 109.7,396.0 113.9,405.0 122.2,420.0 130.5,428.0 138.8,433.8 171.9,442.9 238.2,451.5 304.6,474.6 503.5,458.6" fill="none" stroke="#1f4282" stroke-width="1.4" stroke-dasharray="7.5,3.3" stroke-linejoin="round"/>
<path d="M105.6 386.0L107.9 388.3L105.6 390.6L103.3 388.3Z" fill="#1f4282"/>
<path d="M109.7 393.7L112.0 396.0L109.7 398.3L107.4 396.0Z" fill="#1f4282"/>
<path d="M113.9 402.7L116.2 405.0L113.9 407.3L111.6 405.0Z" fill="#1f4282"/>
<path d="M122.2 417.7L124.5 420.0L122.2 422.3L119.9 420.0Z" fill="#1f4282"/>
<path d="M130.5 425.7L132.8 428.0L130.5 430.3L128.2 428.0Z" fill="#1f4282"/>
<path d="M138.8 431.5L141.1 433.8L138.8 436.1L136.5 433.8Z" fill="#1f4282"/>
<path d="M171.9 440.6L174.2 442.9L171.9 445.2L169.6 442.9Z" fill="#1f4282"/>
<path d="M238.2 449.2L240.5 451.5L238.2 453.8L235.9 451.5Z" fill="#1f4282"/>
<path d="M304.6 472.3L306.9 474.6L304.6 476.9L302.3 474.6Z" fill="#1f4282"/>
<path d="M503.5 456.3L505.8 458.6L503.5 460.9L501.2 458.6Z" fill="#1f4282"/>
<polyline points="105.6,384.4 109.7,392.0 113.9,407.0 122.2,421.4 130.5,426.0 138.8,429.4 171.9,434.8 238.2,443.5 304.6,454.0 503.5,449.5" fill="none" stroke="#efb600" stroke-width="1.4" stroke-dasharray="9,2" stroke-linejoin="round"/>
<path d="M103.7 382.5L107.5 386.3M107.5 382.5L103.7 386.3M103.7 382.2V386.6M107.5 382.2V386.6" stroke="#efb600" stroke-width="1.1" fill="none"/>
<path d="M107.8 390.1L111.6 393.9M111.6 390.1L107.8 393.9M107.8 389.8V394.2M111.6 389.8V394.2" stroke="#efb600" stroke-width="1.1" fill="none"/>
<path d="M112.0 405.1L115.8 408.9M115.8 405.1L112.0 408.9M112.0 404.8V409.2M115.8 404.8V409.2" stroke="#efb600" stroke-width="1.1" fill="none"/>
<path d="M120.3 419.5L124.1 423.3M124.1 419.5L120.3 423.3M120.3 419.2V423.6M124.1 419.2V423.6" stroke="#efb600" stroke-width="1.1" fill="none"/>
<path d="M128.6 424.1L132.4 427.9M132.4 424.1L128.6 427.9M128.6 423.8V428.2M132.4 423.8V428.2" stroke="#efb600" stroke-width="1.1" fill="none"/>
<path d="M136.9 427.5L140.7 431.3M140.7 427.5L136.9 431.3M136.9 427.2V431.6M140.7 427.2V431.6" stroke="#efb600" stroke-width="1.1" fill="none"/>
<path d="M170.0 432.9L173.8 436.7M173.8 432.9L170.0 436.7M170.0 432.6V437.0M173.8 432.6V437.0" stroke="#efb600" stroke-width="1.1" fill="none"/>
<path d="M236.3 441.6L240.1 445.4M240.1 441.6L236.3 445.4M236.3 441.3V445.7M240.1 441.3V445.7" stroke="#efb600" stroke-width="1.1" fill="none"/>
<path d="M302.7 452.1L306.5 455.9M306.5 452.1L302.7 455.9M302.7 451.8V456.2M306.5 451.8V456.2" stroke="#efb600" stroke-width="1.1" fill="none"/>
<path d="M501.6 447.6L505.4 451.4M505.4 447.6L501.6 451.4M501.6 447.3V451.7M505.4 447.3V451.7" stroke="#efb600" stroke-width="1.1" fill="none"/>
<polyline points="105.6,380.0 109.7,388.0 113.9,396.0 122.2,403.0 130.5,408.8 138.8,413.7 171.9,424.0 238.2,432.0 304.6,455.4 503.5,448.5" fill="none" stroke="#e6920c" stroke-width="1.3" stroke-linejoin="round"/>
<polygon points="105.60,377.30 106.33,379.29 108.45,379.37 106.79,380.69 107.36,382.73 105.60,381.55 103.84,382.73 104.41,380.69 102.75,379.37 104.87,379.29" fill="#e6920c"/>
<polygon points="109.74,385.30 110.48,387.29 112.60,387.37 110.93,388.69 111.51,390.73 109.74,389.55 107.98,390.73 108.56,388.69 106.89,387.37 109.01,387.29" fill="#e6920c"/>
<polygon points="113.89,393.30 114.62,395.29 116.74,395.37 115.08,396.69 115.65,398.73 113.89,397.55 112.13,398.73 112.70,396.69 111.04,395.37 113.16,395.29" fill="#e6920c"/>
<polygon points="122.18,400.30 122.91,402.29 125.03,402.37 123.37,403.69 123.94,405.73 122.18,404.55 120.42,405.73 120.99,403.69 119.33,402.37 121.45,402.29" fill="#e6920c"/>
<polygon points="130.47,406.10 131.20,408.09 133.32,408.17 131.66,409.49 132.23,411.53 130.47,410.35 128.71,411.53 129.28,409.49 127.62,408.17 129.74,408.09" fill="#e6920c"/>
<polygon points="138.76,411.00 139.49,412.99 141.61,413.07 139.95,414.39 140.52,416.43 138.76,415.25 137.00,416.43 137.57,414.39 135.91,413.07 138.03,412.99" fill="#e6920c"/>
<polygon points="171.92,421.30 172.65,423.29 174.77,423.37 173.11,424.69 173.68,426.73 171.92,425.55 170.16,426.73 170.73,424.69 169.07,423.37 171.19,423.29" fill="#e6920c"/>
<polygon points="238.24,429.30 238.97,431.29 241.09,431.37 239.43,432.69 240.00,434.73 238.24,433.55 236.48,434.73 237.05,432.69 235.39,431.37 237.51,431.29" fill="#e6920c"/>
<polygon points="304.56,452.70 305.29,454.69 307.41,454.77 305.75,456.09 306.32,458.13 304.56,456.95 302.80,458.13 303.37,456.09 301.71,454.77 303.83,454.69" fill="#e6920c"/>
<polygon points="503.52,445.80 504.25,447.79 506.37,447.87 504.71,449.19 505.28,451.23 503.52,450.05 501.76,451.23 502.33,449.19 500.67,447.87 502.79,447.79" fill="#e6920c"/>
<polyline points="105.6,377.9 109.7,386.0 113.9,396.0 122.2,410.0 130.5,415.5 138.8,420.2 171.9,429.4 238.2,440.6 304.6,445.4 503.5,455.3" fill="none" stroke="#d0108a" stroke-width="1.4" stroke-linejoin="round"/>
<circle cx="105.6" cy="377.9" r="1.5" fill="#fff" stroke="#d0108a" stroke-width="1.7"/>
<circle cx="109.7" cy="386.0" r="1.5" fill="#fff" stroke="#d0108a" stroke-width="1.7"/>
<circle cx="113.9" cy="396.0" r="1.5" fill="#fff" stroke="#d0108a" stroke-width="1.7"/>
<circle cx="122.2" cy="410.0" r="1.5" fill="#fff" stroke="#d0108a" stroke-width="1.7"/>
<circle cx="130.5" cy="415.5" r="1.5" fill="#fff" stroke="#d0108a" stroke-width="1.7"/>
<circle cx="138.8" cy="420.2" r="1.5" fill="#fff" stroke="#d0108a" stroke-width="1.7"/>
<circle cx="171.9" cy="429.4" r="1.5" fill="#fff" stroke="#d0108a" stroke-width="1.7"/>
<circle cx="238.2" cy="440.6" r="1.5" fill="#fff" stroke="#d0108a" stroke-width="1.7"/>
<circle cx="304.6" cy="445.4" r="1.5" fill="#fff" stroke="#d0108a" stroke-width="1.7"/>
<circle cx="503.5" cy="455.3" r="1.5" fill="#fff" stroke="#d0108a" stroke-width="1.7"/>
<polyline points="105.6,378.0 109.7,386.0 113.9,394.0 122.2,407.0 130.5,412.0 138.8,416.5 171.9,422.7 238.2,425.0 304.6,430.4 503.5,452.8" fill="none" stroke="#da7565" stroke-width="1.3" stroke-dasharray="8.5,2,1.5,2.4" stroke-linejoin="round"/>
<path d="M105.6 375.3L108.0 380.0L103.2 380.0Z" fill="#da7565"/>
<path d="M109.7 383.3L112.1 388.0L107.3 388.0Z" fill="#da7565"/>
<path d="M113.9 391.3L116.3 396.0L111.5 396.0Z" fill="#da7565"/>
<path d="M122.2 404.3L124.6 409.0L119.8 409.0Z" fill="#da7565"/>
<path d="M130.5 409.3L132.9 414.0L128.1 414.0Z" fill="#da7565"/>
<path d="M138.8 413.8L141.2 418.5L136.4 418.5Z" fill="#da7565"/>
<path d="M171.9 420.0L174.3 424.7L169.5 424.7Z" fill="#da7565"/>
<path d="M238.2 422.3L240.6 427.0L235.8 427.0Z" fill="#da7565"/>
<path d="M304.6 427.7L307.0 432.4L302.2 432.4Z" fill="#da7565"/>
<path d="M503.5 450.1L505.9 454.8L501.1 454.8Z" fill="#da7565"/>
<polyline points="105.6,376.0 109.7,384.0 113.9,392.0 122.2,404.0 130.5,409.0 138.8,413.0 171.9,421.7 238.2,436.7 304.6,435.2 503.5,441.6" fill="none" stroke="#c6c6ca" stroke-width="1.3" stroke-dasharray="14,2.5,1.5,2.5" stroke-linejoin="round"/>
<ellipse cx="105.6" cy="376.0" rx="1.6" ry="2.0" fill="#fff" stroke="#c6c6ca" stroke-width="1.2"/>
<ellipse cx="109.7" cy="384.0" rx="1.6" ry="2.0" fill="#fff" stroke="#c6c6ca" stroke-width="1.2"/>
<ellipse cx="113.9" cy="392.0" rx="1.6" ry="2.0" fill="#fff" stroke="#c6c6ca" stroke-width="1.2"/>
<ellipse cx="122.2" cy="404.0" rx="1.6" ry="2.0" fill="#fff" stroke="#c6c6ca" stroke-width="1.2"/>
<ellipse cx="130.5" cy="409.0" rx="1.6" ry="2.0" fill="#fff" stroke="#c6c6ca" stroke-width="1.2"/>
<ellipse cx="138.8" cy="413.0" rx="1.6" ry="2.0" fill="#fff" stroke="#c6c6ca" stroke-width="1.2"/>
<ellipse cx="171.9" cy="421.7" rx="1.6" ry="2.0" fill="#fff" stroke="#c6c6ca" stroke-width="1.2"/>
<ellipse cx="238.2" cy="436.7" rx="1.6" ry="2.0" fill="#fff" stroke="#c6c6ca" stroke-width="1.2"/>
<ellipse cx="304.6" cy="435.2" rx="1.6" ry="2.0" fill="#fff" stroke="#c6c6ca" stroke-width="1.2"/>
<ellipse cx="503.5" cy="441.6" rx="1.6" ry="2.0" fill="#fff" stroke="#c6c6ca" stroke-width="1.2"/>
<polyline points="105.6,374.0 109.7,382.0 113.9,398.0 122.2,406.4 130.5,411.7 138.8,416.0 171.9,425.8 238.2,437.7 304.6,444.4 503.5,460.4" fill="none" stroke="#52227c" stroke-width="1.3" stroke-dasharray="33,2.5,1.5,2.5" stroke-linejoin="round"/>
<circle cx="105.6" cy="374.0" r="1.4" fill="#52227c"/>
<circle cx="109.7" cy="382.0" r="1.4" fill="#52227c"/>
<circle cx="113.9" cy="398.0" r="1.4" fill="#52227c"/>
<circle cx="122.2" cy="406.4" r="1.4" fill="#52227c"/>
<circle cx="130.5" cy="411.7" r="1.4" fill="#52227c"/>
<circle cx="138.8" cy="416.0" r="1.4" fill="#52227c"/>
<circle cx="171.9" cy="425.8" r="1.4" fill="#52227c"/>
<circle cx="238.2" cy="437.7" r="1.4" fill="#52227c"/>
<circle cx="304.6" cy="444.4" r="1.4" fill="#52227c"/>
<circle cx="503.5" cy="460.4" r="1.4" fill="#52227c"/>
<polyline points="105.6,374.5 109.7,380.0 113.9,386.0 122.2,394.0 130.5,399.1 138.8,402.1 171.9,410.0 238.2,429.0 503.5,426.6" fill="none" stroke="#8378c6" stroke-width="1.3" stroke-dasharray="30,2.5,1.5,2.5" stroke-linejoin="round"/>
<path d="M103.2 371.9L104.3 373.0V375.1M106.9 373.9V377.3" stroke="#8378c6" stroke-width="1.1" fill="none"/>
<path d="M107.3 377.4L108.4 378.5V380.6M111.0 379.4V382.8" stroke="#8378c6" stroke-width="1.1" fill="none"/>
<path d="M111.5 383.4L112.6 384.5V386.6M115.2 385.4V388.8" stroke="#8378c6" stroke-width="1.1" fill="none"/>
<path d="M119.8 391.4L120.9 392.5V394.6M123.5 393.4V396.8" stroke="#8378c6" stroke-width="1.1" fill="none"/>
<path d="M128.1 396.5L129.2 397.6V399.7M131.8 398.5V401.9" stroke="#8378c6" stroke-width="1.1" fill="none"/>
<path d="M136.4 399.5L137.5 400.6V402.7M140.1 401.5V404.9" stroke="#8378c6" stroke-width="1.1" fill="none"/>
<path d="M169.5 407.4L170.6 408.5V410.6M173.2 409.4V412.8" stroke="#8378c6" stroke-width="1.1" fill="none"/>
<path d="M235.8 426.4L236.9 427.5V429.6M239.5 428.4V431.8" stroke="#8378c6" stroke-width="1.1" fill="none"/>
<path d="M501.1 424.0L502.2 425.1V427.2M504.8 426.0V429.4" stroke="#8378c6" stroke-width="1.1" fill="none"/>
<polyline points="105.6,361.5 109.7,367.8 113.9,378.0 122.2,394.8 130.5,389.6 138.8,397.4 171.9,408.0 238.2,426.2 503.5,420.2" fill="none" stroke="#58a83a" stroke-width="1.3" stroke-dasharray="15,3" stroke-linejoin="round"/>
<path d="M105.6 364.1L103.2 361.3Q102.9 359.0 104.6 359.0Q105.3 359.1 105.6 360.1Q105.9 359.1 106.6 359.0Q108.3 359.0 108.0 361.3Z" fill="#fff" stroke="#58a83a" stroke-width="1.3"/>
<path d="M109.7 370.4L107.3 367.6Q107.0 365.3 108.7 365.3Q109.4 365.4 109.7 366.4Q110.0 365.4 110.7 365.3Q112.4 365.3 112.1 367.6Z" fill="#fff" stroke="#58a83a" stroke-width="1.3"/>
<path d="M113.9 380.6L111.5 377.8Q111.2 375.5 112.9 375.5Q113.6 375.6 113.9 376.6Q114.2 375.6 114.9 375.5Q116.6 375.5 116.3 377.8Z" fill="#fff" stroke="#58a83a" stroke-width="1.3"/>
<path d="M122.2 397.4L119.8 394.6Q119.5 392.3 121.2 392.3Q121.9 392.4 122.2 393.4Q122.5 392.4 123.2 392.3Q124.9 392.3 124.6 394.6Z" fill="#fff" stroke="#58a83a" stroke-width="1.3"/>
<path d="M130.5 392.2L128.1 389.4Q127.8 387.1 129.5 387.1Q130.2 387.2 130.5 388.2Q130.8 387.2 131.5 387.1Q133.2 387.1 132.9 389.4Z" fill="#fff" stroke="#58a83a" stroke-width="1.3"/>
<path d="M138.8 400.0L136.4 397.2Q136.1 394.9 137.8 394.9Q138.5 395.0 138.8 396.0Q139.1 395.0 139.8 394.9Q141.5 394.9 141.2 397.2Z" fill="#fff" stroke="#58a83a" stroke-width="1.3"/>
<path d="M171.9 410.6L169.5 407.8Q169.2 405.5 170.9 405.5Q171.6 405.6 171.9 406.6Q172.2 405.6 172.9 405.5Q174.6 405.5 174.3 407.8Z" fill="#fff" stroke="#58a83a" stroke-width="1.3"/>
<path d="M238.2 428.8L235.8 426.0Q235.5 423.7 237.2 423.7Q237.9 423.8 238.2 424.8Q238.5 423.8 239.2 423.7Q240.9 423.7 240.6 426.0Z" fill="#fff" stroke="#58a83a" stroke-width="1.3"/>
<path d="M503.5 422.8L501.1 420.0Q500.8 417.7 502.5 417.7Q503.2 417.8 503.5 418.8Q503.8 417.8 504.5 417.7Q506.2 417.7 505.9 420.0Z" fill="#fff" stroke="#58a83a" stroke-width="1.3"/>
<polyline points="105.6,365.0 109.7,370.0 113.9,377.5 122.2,387.4 130.5,391.3 138.8,395.3 171.9,405.0 238.2,413.3 503.5,429.0" fill="none" stroke="#5c3712" stroke-width="1.3" stroke-dasharray="40,3" stroke-linejoin="round"/>
<path d="M103.7 365.0L105.6 362.5L107.5 365.0L105.6 367.5Z" fill="#5c3712"/>
<path d="M107.8 370.0L109.7 367.5L111.6 370.0L109.7 372.5Z" fill="#5c3712"/>
<path d="M112.0 377.5L113.9 375.0L115.8 377.5L113.9 380.0Z" fill="#5c3712"/>
<path d="M120.3 387.4L122.2 384.9L124.1 387.4L122.2 389.9Z" fill="#5c3712"/>
<path d="M128.6 391.3L130.5 388.8L132.4 391.3L130.5 393.8Z" fill="#5c3712"/>
<path d="M136.9 395.3L138.8 392.8L140.7 395.3L138.8 397.8Z" fill="#5c3712"/>
<path d="M170.0 405.0L171.9 402.5L173.8 405.0L171.9 407.5Z" fill="#5c3712"/>
<path d="M236.3 413.3L238.2 410.8L240.1 413.3L238.2 415.8Z" fill="#5c3712"/>
<path d="M501.6 429.0L503.5 426.5L505.4 429.0L503.5 431.5Z" fill="#5c3712"/>
<polyline points="105.6,370.1 109.7,377.5 113.9,383.5 122.2,390.9 130.5,397.4 138.8,400.0 171.9,408.0 238.2,420.4 503.5,436.6" fill="none" stroke="#bc6a12" stroke-width="1.3" stroke-dasharray="8,2,1.5,2,1.5,2" stroke-linejoin="round"/>
<path d="M105.6 367.6L107.5 370.1L105.6 372.6L103.7 370.1Z" fill="#fff" stroke="#bc6a12" stroke-width="1.4"/>
<path d="M109.7 375.0L111.6 377.5L109.7 380.0L107.8 377.5Z" fill="#fff" stroke="#bc6a12" stroke-width="1.4"/>
<path d="M113.9 381.0L115.8 383.5L113.9 386.0L112.0 383.5Z" fill="#fff" stroke="#bc6a12" stroke-width="1.4"/>
<path d="M122.2 388.4L124.1 390.9L122.2 393.4L120.3 390.9Z" fill="#fff" stroke="#bc6a12" stroke-width="1.4"/>
<path d="M130.5 394.9L132.4 397.4L130.5 399.9L128.6 397.4Z" fill="#fff" stroke="#bc6a12" stroke-width="1.4"/>
<path d="M138.8 397.5L140.7 400.0L138.8 402.5L136.9 400.0Z" fill="#fff" stroke="#bc6a12" stroke-width="1.4"/>
<path d="M171.9 405.5L173.8 408.0L171.9 410.5L170.0 408.0Z" fill="#fff" stroke="#bc6a12" stroke-width="1.4"/>
<path d="M238.2 417.9L240.1 420.4L238.2 422.9L236.3 420.4Z" fill="#fff" stroke="#bc6a12" stroke-width="1.4"/>
<path d="M503.5 434.1L505.4 436.6L503.5 439.1L501.6 436.6Z" fill="#fff" stroke="#bc6a12" stroke-width="1.4"/>
<polyline points="105.6,372.0 109.7,380.0 113.9,386.0 122.2,393.9 130.5,395.7 138.8,400.8 171.9,406.5 238.2,417.5 503.5,428.4" fill="none" stroke="#62aae2" stroke-width="1.3" stroke-dasharray="16.5,2,2,2.3,2,2.3" stroke-linejoin="round"/>
<path d="M104.2 369.6V374.4M107.0 369.6V374.4" stroke="#62aae2" stroke-width="1.1" fill="none"/>
<path d="M108.3 377.6V382.4M111.1 377.6V382.4" stroke="#62aae2" stroke-width="1.1" fill="none"/>
<path d="M112.5 383.6V388.4M115.3 383.6V388.4" stroke="#62aae2" stroke-width="1.1" fill="none"/>
<path d="M120.8 391.5V396.3M123.6 391.5V396.3" stroke="#62aae2" stroke-width="1.1" fill="none"/>
<path d="M129.1 393.3V398.1M131.9 393.3V398.1" stroke="#62aae2" stroke-width="1.1" fill="none"/>
<path d="M137.4 398.4V403.2M140.2 398.4V403.2" stroke="#62aae2" stroke-width="1.1" fill="none"/>
<path d="M170.5 404.1V408.9M173.3 404.1V408.9" stroke="#62aae2" stroke-width="1.1" fill="none"/>
<path d="M236.8 415.1V419.9M239.6 415.1V419.9" stroke="#62aae2" stroke-width="1.1" fill="none"/>
<path d="M502.1 426.0V430.8M504.9 426.0V430.8" stroke="#62aae2" stroke-width="1.1" fill="none"/>
<polyline points="105.6,366.0 109.7,372.0 113.9,378.0 122.2,384.8 130.5,385.7 138.8,389.6 171.9,399.8 238.2,412.3 503.5,429.3" fill="none" stroke="#9cb070" stroke-width="1.3" stroke-dasharray="40,3" stroke-linejoin="round"/>
<path d="M103.7 366.0L105.6 363.5L107.5 366.0L105.6 368.5Z" fill="#9cb070"/>
<path d="M107.8 372.0L109.7 369.5L111.6 372.0L109.7 374.5Z" fill="#9cb070"/>
<path d="M112.0 378.0L113.9 375.5L115.8 378.0L113.9 380.5Z" fill="#9cb070"/>
<path d="M120.3 384.8L122.2 382.3L124.1 384.8L122.2 387.3Z" fill="#9cb070"/>
<path d="M128.6 385.7L130.5 383.2L132.4 385.7L130.5 388.2Z" fill="#9cb070"/>
<path d="M136.9 389.6L138.8 387.1L140.7 389.6L138.8 392.1Z" fill="#9cb070"/>
<path d="M170.0 399.8L171.9 397.3L173.8 399.8L171.9 402.3Z" fill="#9cb070"/>
<path d="M236.3 412.3L238.2 409.8L240.1 412.3L238.2 414.8Z" fill="#9cb070"/>
<path d="M501.6 429.3L503.5 426.8L505.4 429.3L503.5 431.8Z" fill="#9cb070"/>
<path d="M117.3 567.3H131.4" stroke="#4a5266" stroke-width="1.3"/>
<g transform="translate(117.30 567.30) scale(1.15) translate(-117.30 -567.30)"><circle cx="117.3" cy="567.3" r="2.3" fill="#4a5266"/></g>
<g transform="translate(124.35 567.30) scale(1.15) translate(-124.35 -567.30)"><circle cx="124.3" cy="567.3" r="2.3" fill="#4a5266"/></g>
<g transform="translate(131.40 567.30) scale(1.15) translate(-131.40 -567.30)"><circle cx="131.4" cy="567.3" r="2.3" fill="#4a5266"/></g>
<text x="138.00" y="570.50" font-size="10.0" textLength="34.84" lengthAdjust="spacingAndGlyphs" stroke="#000" stroke-width="0.12">4 mg/m</text>
<text x="173.14" y="567.60" font-size="7.3" textLength="3.9" lengthAdjust="spacingAndGlyphs">2</text>
<path d="M212.8 567.3H226.9" stroke="#cf1130" stroke-width="1.4" stroke-dasharray="2,2.2"/>
<g transform="translate(212.80 567.30) scale(0.88) translate(-212.80 -567.30)"><rect x="211.30" y="565.80" width="3.0" height="3.0" fill="#fff" stroke="#cf1130" stroke-width="1.9"/></g>
<g transform="translate(219.85 567.30) scale(0.88) translate(-219.85 -567.30)"><rect x="218.35" y="565.80" width="3.0" height="3.0" fill="#fff" stroke="#cf1130" stroke-width="1.9"/></g>
<g transform="translate(226.90 567.30) scale(0.88) translate(-226.90 -567.30)"><rect x="225.40" y="565.80" width="3.0" height="3.0" fill="#fff" stroke="#cf1130" stroke-width="1.9"/></g>
<text x="233.40" y="570.50" font-size="10.0" textLength="34.84" lengthAdjust="spacingAndGlyphs" stroke="#000" stroke-width="0.12">8 mg/m</text>
<text x="268.54" y="567.60" font-size="7.3" textLength="3.9" lengthAdjust="spacingAndGlyphs">2</text>
<path d="M309.2 567.3H323.3" stroke="#22603f" stroke-width="1.3" stroke-dasharray="3.2,2.9"/>
<g transform="translate(309.20 567.30) scale(1.1) translate(-309.20 -567.30)"><circle cx="309.2" cy="567.3" r="1.5" fill="#fff" stroke="#22603f" stroke-width="1.3"/></g>
<g transform="translate(316.25 567.30) scale(1.1) translate(-316.25 -567.30)"><circle cx="316.2" cy="567.3" r="1.5" fill="#fff" stroke="#22603f" stroke-width="1.3"/></g>
<g transform="translate(323.30 567.30) scale(1.1) translate(-323.30 -567.30)"><circle cx="323.3" cy="567.3" r="1.5" fill="#fff" stroke="#22603f" stroke-width="1.3"/></g>
<text x="330.10" y="570.50" font-size="10.0" textLength="40.65" lengthAdjust="spacingAndGlyphs" stroke="#000" stroke-width="0.12">13 mg/m</text>
<text x="371.05" y="567.60" font-size="7.3" textLength="3.9" lengthAdjust="spacingAndGlyphs">2</text>
<path d="M413.4 567.3H427.5" stroke="#1f4282" stroke-width="1.4" stroke-dasharray="7.5,3.3"/>
<g transform="translate(413.40 567.30) scale(1.05) translate(-413.40 -567.30)"><path d="M413.4 565.0L415.7 567.3L413.4 569.6L411.1 567.3Z" fill="#1f4282"/></g>
<g transform="translate(420.45 567.30) scale(1.05) translate(-420.45 -567.30)"><path d="M420.4 565.0L422.8 567.3L420.4 569.6L418.1 567.3Z" fill="#1f4282"/></g>
<g transform="translate(427.50 567.30) scale(1.05) translate(-427.50 -567.30)"><path d="M427.5 565.0L429.8 567.3L427.5 569.6L425.2 567.3Z" fill="#1f4282"/></g>
<text x="434.10" y="570.50" font-size="10.0" textLength="40.65" lengthAdjust="spacingAndGlyphs" stroke="#000" stroke-width="0.12">19 mg/m</text>
<text x="475.05" y="567.60" font-size="7.3" textLength="3.9" lengthAdjust="spacingAndGlyphs">2</text>
<path d="M117.3 581.0H131.4" stroke="#efb600" stroke-width="1.4" stroke-dasharray="9,2"/>
<g transform="translate(117.30 581.00) scale(1.0) translate(-117.30 -581.00)"><path d="M115.4 579.1L119.2 582.9M119.2 579.1L115.4 582.9M115.4 578.8V583.2M119.2 578.8V583.2" stroke="#efb600" stroke-width="1.1" fill="none"/></g>
<g transform="translate(124.35 581.00) scale(1.0) translate(-124.35 -581.00)"><path d="M122.4 579.1L126.2 582.9M126.2 579.1L122.4 582.9M122.4 578.8V583.2M126.2 578.8V583.2" stroke="#efb600" stroke-width="1.1" fill="none"/></g>
<g transform="translate(131.40 581.00) scale(1.0) translate(-131.40 -581.00)"><path d="M129.5 579.1L133.3 582.9M133.3 579.1L129.5 582.9M129.5 578.8V583.2M133.3 578.8V583.2" stroke="#efb600" stroke-width="1.1" fill="none"/></g>
<text x="138.00" y="584.20" font-size="10.0" textLength="40.65" lengthAdjust="spacingAndGlyphs" stroke="#000" stroke-width="0.12">26 mg/m</text>
<text x="178.95" y="581.30" font-size="7.3" textLength="3.9" lengthAdjust="spacingAndGlyphs">2</text>
<path d="M212.8 581.0H226.9" stroke="#e6920c" stroke-width="1.3"/>
<g transform="translate(212.80 581.00) scale(1.0) translate(-212.80 -581.00)"><polygon points="212.80,578.30 213.53,580.29 215.65,580.37 213.99,581.69 214.56,583.73 212.80,582.55 211.04,583.73 211.61,581.69 209.95,580.37 212.07,580.29" fill="#e6920c"/></g>
<g transform="translate(219.85 581.00) scale(1.0) translate(-219.85 -581.00)"><polygon points="219.85,578.30 220.58,580.29 222.70,580.37 221.04,581.69 221.61,583.73 219.85,582.55 218.09,583.73 218.66,581.69 217.00,580.37 219.12,580.29" fill="#e6920c"/></g>
<g transform="translate(226.90 581.00) scale(1.0) translate(-226.90 -581.00)"><polygon points="226.90,578.30 227.63,580.29 229.75,580.37 228.09,581.69 228.66,583.73 226.90,582.55 225.14,583.73 225.71,581.69 224.05,580.37 226.17,580.29" fill="#e6920c"/></g>
<text x="233.40" y="584.20" font-size="10.0" textLength="40.65" lengthAdjust="spacingAndGlyphs" stroke="#000" stroke-width="0.12">33 mg/m</text>
<text x="274.35" y="581.30" font-size="7.3" textLength="3.9" lengthAdjust="spacingAndGlyphs">2</text>
<path d="M309.2 581.0H323.3" stroke="#d0108a" stroke-width="1.4"/>
<g transform="translate(309.20 581.00) scale(1.05) translate(-309.20 -581.00)"><circle cx="309.2" cy="581.0" r="1.5" fill="#fff" stroke="#d0108a" stroke-width="1.7"/></g>
<g transform="translate(316.25 581.00) scale(1.05) translate(-316.25 -581.00)"><circle cx="316.2" cy="581.0" r="1.5" fill="#fff" stroke="#d0108a" stroke-width="1.7"/></g>
<g transform="translate(323.30 581.00) scale(1.05) translate(-323.30 -581.00)"><circle cx="323.3" cy="581.0" r="1.5" fill="#fff" stroke="#d0108a" stroke-width="1.7"/></g>
<text x="330.10" y="584.20" font-size="10.0" textLength="40.65" lengthAdjust="spacingAndGlyphs" stroke="#000" stroke-width="0.12">42 mg/m</text>
<text x="371.05" y="581.30" font-size="7.3" textLength="3.9" lengthAdjust="spacingAndGlyphs">2</text>
<path d="M413.4 581.0H427.5" stroke="#da7565" stroke-width="1.3" stroke-dasharray="8.5,2,1.5,2.4"/>
<g transform="translate(413.40 581.00) scale(1.0) translate(-413.40 -581.00)"><path d="M413.4 578.3L415.8 583.0L411.0 583.0Z" fill="#da7565"/></g>
<g transform="translate(420.45 581.00) scale(1.0) translate(-420.45 -581.00)"><path d="M420.4 578.3L422.8 583.0L418.1 583.0Z" fill="#da7565"/></g>
<g transform="translate(427.50 581.00) scale(1.0) translate(-427.50 -581.00)"><path d="M427.5 578.3L429.9 583.0L425.1 583.0Z" fill="#da7565"/></g>
<text x="434.10" y="584.20" font-size="10.0" textLength="40.65" lengthAdjust="spacingAndGlyphs" stroke="#000" stroke-width="0.12">54 mg/m</text>
<text x="475.05" y="581.30" font-size="7.3" textLength="3.9" lengthAdjust="spacingAndGlyphs">2</text>
<path d="M117.3 594.6H131.4" stroke="#c6c6ca" stroke-width="1.3" stroke-dasharray="14,2.5,1.5,2.5"/>
<g transform="translate(117.30 594.60) scale(1.05) translate(-117.30 -594.60)"><ellipse cx="117.3" cy="594.6" rx="1.6" ry="2.0" fill="#fff" stroke="#c6c6ca" stroke-width="1.2"/></g>
<g transform="translate(124.35 594.60) scale(1.05) translate(-124.35 -594.60)"><ellipse cx="124.3" cy="594.6" rx="1.6" ry="2.0" fill="#fff" stroke="#c6c6ca" stroke-width="1.2"/></g>
<g transform="translate(131.40 594.60) scale(1.05) translate(-131.40 -594.60)"><ellipse cx="131.4" cy="594.6" rx="1.6" ry="2.0" fill="#fff" stroke="#c6c6ca" stroke-width="1.2"/></g>
<text x="138.00" y="597.80" font-size="10.0" textLength="40.65" lengthAdjust="spacingAndGlyphs" stroke="#000" stroke-width="0.12">70 mg/m</text>
<text x="178.95" y="594.90" font-size="7.3" textLength="3.9" lengthAdjust="spacingAndGlyphs">2</text>
<path d="M212.8 594.6H226.9" stroke="#52227c" stroke-width="1.3" stroke-dasharray="33,2.5,1.5,2.5"/>
<g transform="translate(212.80 594.60) scale(1.25) translate(-212.80 -594.60)"><circle cx="212.8" cy="594.6" r="1.4" fill="#52227c"/></g>
<g transform="translate(219.85 594.60) scale(1.25) translate(-219.85 -594.60)"><circle cx="219.9" cy="594.6" r="1.4" fill="#52227c"/></g>
<g transform="translate(226.90 594.60) scale(1.25) translate(-226.90 -594.60)"><circle cx="226.9" cy="594.6" r="1.4" fill="#52227c"/></g>
<text x="233.40" y="597.80" font-size="10.0" textLength="40.65" lengthAdjust="spacingAndGlyphs" stroke="#000" stroke-width="0.12">91 mg/m</text>
<text x="274.35" y="594.90" font-size="7.3" textLength="3.9" lengthAdjust="spacingAndGlyphs">2</text>
<path d="M309.2 594.6H323.3" stroke="#8378c6" stroke-width="1.3" stroke-dasharray="30,2.5,1.5,2.5"/>
<g transform="translate(309.20 594.60) scale(1.2) translate(-309.20 -594.60)"><path d="M306.8 592.0L307.9 593.1V595.2M310.5 594.0V597.4" stroke="#8378c6" stroke-width="1.1" fill="none"/></g>
<g transform="translate(316.25 594.60) scale(1.2) translate(-316.25 -594.60)"><path d="M313.9 592.0L314.9 593.1V595.2M317.6 594.0V597.4" stroke="#8378c6" stroke-width="1.1" fill="none"/></g>
<g transform="translate(323.30 594.60) scale(1.2) translate(-323.30 -594.60)"><path d="M320.9 592.0L322.0 593.1V595.2M324.6 594.0V597.4" stroke="#8378c6" stroke-width="1.1" fill="none"/></g>
<text x="330.10" y="597.80" font-size="10.0" textLength="45.69" lengthAdjust="spacingAndGlyphs" stroke="#000" stroke-width="0.12">118 mg/m</text>
<text x="376.09" y="594.90" font-size="7.3" textLength="3.9" lengthAdjust="spacingAndGlyphs">2</text>
<path d="M413.4 594.6H427.5" stroke="#58a83a" stroke-width="1.3" stroke-dasharray="15,3"/>
<g transform="translate(413.40 594.60) scale(1.0) translate(-413.40 -594.60)"><path d="M413.4 597.2L411.0 594.4Q410.7 592.1 412.4 592.1Q413.1 592.2 413.4 593.2Q413.7 592.2 414.4 592.1Q416.1 592.1 415.8 594.4Z" fill="#fff" stroke="#58a83a" stroke-width="1.3"/></g>
<g transform="translate(420.45 594.60) scale(1.0) translate(-420.45 -594.60)"><path d="M420.4 597.2L418.1 594.4Q417.8 592.1 419.4 592.1Q420.1 592.2 420.4 593.2Q420.8 592.2 421.4 592.1Q423.1 592.1 422.8 594.4Z" fill="#fff" stroke="#58a83a" stroke-width="1.3"/></g>
<g transform="translate(427.50 594.60) scale(1.0) translate(-427.50 -594.60)"><path d="M427.5 597.2L425.1 594.4Q424.8 592.1 426.5 592.1Q427.2 592.2 427.5 593.2Q427.8 592.2 428.5 592.1Q430.2 592.1 429.9 594.4Z" fill="#fff" stroke="#58a83a" stroke-width="1.3"/></g>
<text x="434.10" y="597.80" font-size="10.0" textLength="46.46" lengthAdjust="spacingAndGlyphs" stroke="#000" stroke-width="0.12">153 mg/m</text>
<text x="480.86" y="594.90" font-size="7.3" textLength="3.9" lengthAdjust="spacingAndGlyphs">2</text>
<path d="M117.3 608.3H131.4" stroke="#5c3712" stroke-width="1.3" stroke-dasharray="40,3"/>
<g transform="translate(117.30 608.30) scale(1.0) translate(-117.30 -608.30)"><path d="M115.4 608.3L117.3 605.8L119.2 608.3L117.3 610.8Z" fill="#5c3712"/></g>
<g transform="translate(124.35 608.30) scale(1.0) translate(-124.35 -608.30)"><path d="M122.4 608.3L124.3 605.8L126.2 608.3L124.3 610.8Z" fill="#5c3712"/></g>
<g transform="translate(131.40 608.30) scale(1.0) translate(-131.40 -608.30)"><path d="M129.5 608.3L131.4 605.8L133.3 608.3L131.4 610.8Z" fill="#5c3712"/></g>
<text x="138.00" y="611.50" font-size="10.0" textLength="46.46" lengthAdjust="spacingAndGlyphs" stroke="#000" stroke-width="0.12">198 mg/m</text>
<text x="184.76" y="608.60" font-size="7.3" textLength="3.9" lengthAdjust="spacingAndGlyphs">2</text>
<path d="M212.8 608.3H226.9" stroke="#bc6a12" stroke-width="1.3" stroke-dasharray="8,2,1.5,2,1.5,2"/>
<g transform="translate(212.80 608.30) scale(1.15) translate(-212.80 -608.30)"><path d="M212.8 605.8L214.7 608.3L212.8 610.8L210.9 608.3Z" fill="#fff" stroke="#bc6a12" stroke-width="1.4"/></g>
<g transform="translate(219.85 608.30) scale(1.15) translate(-219.85 -608.30)"><path d="M219.9 605.8L221.8 608.3L219.9 610.8L218.0 608.3Z" fill="#fff" stroke="#bc6a12" stroke-width="1.4"/></g>
<g transform="translate(226.90 608.30) scale(1.15) translate(-226.90 -608.30)"><path d="M226.9 605.8L228.8 608.3L226.9 610.8L225.0 608.3Z" fill="#fff" stroke="#bc6a12" stroke-width="1.4"/></g>
<text x="233.40" y="611.50" font-size="10.0" textLength="46.46" lengthAdjust="spacingAndGlyphs" stroke="#000" stroke-width="0.12">257 mg/m</text>
<text x="280.16" y="608.60" font-size="7.3" textLength="3.9" lengthAdjust="spacingAndGlyphs">2</text>
<path d="M309.2 608.3H323.3" stroke="#62aae2" stroke-width="1.3" stroke-dasharray="16.5,2,2,2.3,2,2.3"/>
<g transform="translate(309.20 608.30) scale(1.1) translate(-309.20 -608.30)"><path d="M307.8 605.9V610.7M310.6 605.9V610.7" stroke="#62aae2" stroke-width="1.1" fill="none"/></g>
<g transform="translate(316.25 608.30) scale(1.1) translate(-316.25 -608.30)"><path d="M314.9 605.9V610.7M317.6 605.9V610.7" stroke="#62aae2" stroke-width="1.1" fill="none"/></g>
<g transform="translate(323.30 608.30) scale(1.1) translate(-323.30 -608.30)"><path d="M321.9 605.9V610.7M324.7 605.9V610.7" stroke="#62aae2" stroke-width="1.1" fill="none"/></g>
<text x="330.10" y="611.50" font-size="10.0" textLength="50.53" lengthAdjust="spacingAndGlyphs" stroke="#000" stroke-width="0.12">257* mg/m</text>
<text x="380.93" y="608.60" font-size="7.3" textLength="3.9" lengthAdjust="spacingAndGlyphs">2</text>
<path d="M413.4 608.3H427.5" stroke="#9cb070" stroke-width="1.3" stroke-dasharray="40,3"/>
<g transform="translate(413.40 608.30) scale(1.0) translate(-413.40 -608.30)"><path d="M411.5 608.3L413.4 605.8L415.3 608.3L413.4 610.8Z" fill="#9cb070"/></g>
<g transform="translate(420.45 608.30) scale(1.0) translate(-420.45 -608.30)"><path d="M418.6 608.3L420.4 605.8L422.3 608.3L420.4 610.8Z" fill="#9cb070"/></g>
<g transform="translate(427.50 608.30) scale(1.0) translate(-427.50 -608.30)"><path d="M425.6 608.3L427.5 605.8L429.4 608.3L427.5 610.8Z" fill="#9cb070"/></g>
<text x="434.10" y="611.50" font-size="10.0" textLength="46.46" lengthAdjust="spacingAndGlyphs" stroke="#000" stroke-width="0.12">334 mg/m</text>
<text x="480.86" y="608.60" font-size="7.3" textLength="3.9" lengthAdjust="spacingAndGlyphs">2</text>
<text x="114.60" y="639.30" font-size="9.79" font-weight="normal" textLength="337.63" lengthAdjust="spacingAndGlyphs" fill="#000" >*Study drug infusion time was over 2 hours for this cohort instead of 30 min.</text>
</svg>
</body></html>
